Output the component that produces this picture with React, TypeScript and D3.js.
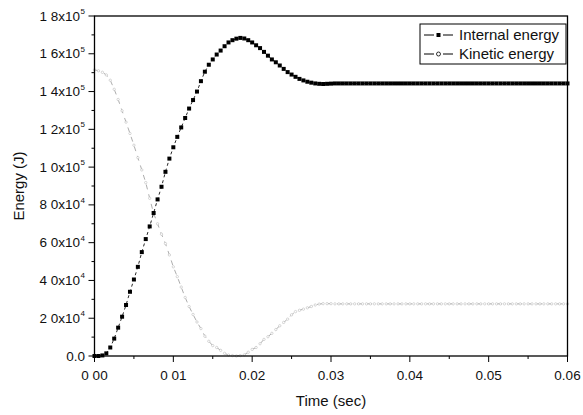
import React from "react";
import * as d3 from "d3";

// time step 0.0005 s, 0 .. 0.06
const timeStepMs = 0.5;
const internalEnergy = [
  0, 0, 0.03, 0.14, 0.45, 0.92, 1.5, 2.08, 2.7, 3.4,
  4.05, 4.72, 5.5, 6.19, 6.86, 7.57, 8.29, 8.96, 9.75, 10.45,
  11.05, 11.6, 12.1, 12.6, 13.1, 13.55, 14.0, 14.55, 15.05, 15.42,
  15.7, 15.96, 16.17, 16.4, 16.6, 16.72, 16.8, 16.84, 16.81, 16.72,
  16.6, 16.45, 16.3, 16.1, 15.9, 15.7, 15.55, 15.38, 15.2, 15.03,
  14.9, 14.78, 14.67, 14.59, 14.52, 14.47, 14.43, 14.41, 14.4, 14.41,
  14.42, 14.43, 14.43, 14.43, 14.43, 14.43, 14.43, 14.43, 14.43, 14.43,
  14.43, 14.43, 14.43, 14.43, 14.43, 14.43, 14.43, 14.43, 14.43, 14.43,
  14.43, 14.43, 14.43, 14.43, 14.43, 14.43, 14.43, 14.43, 14.43, 14.43,
  14.43, 14.43, 14.43, 14.43, 14.43, 14.43, 14.43, 14.43, 14.43, 14.43,
  14.43, 14.43, 14.43, 14.43, 14.43, 14.43, 14.43, 14.43, 14.43, 14.43,
  14.43, 14.43, 14.43, 14.43, 14.43, 14.43, 14.43, 14.43, 14.43, 14.43,
  14.43,
];
const kineticEnergy = [
  15.15, 15.1, 15.02, 14.88, 14.6, 14.12, 13.58, 12.98, 12.38, 11.78,
  11.16, 10.5, 9.85, 9.18, 8.35, 7.55, 7.0, 6.45, 5.95, 5.35,
  4.72, 4.2, 3.65, 3.1, 2.62, 2.2, 1.8, 1.45, 1.05, 0.78,
  0.55, 0.45, 0.3, 0.14, 0.05, 0.02, 0.0, 0.02, 0.06, 0.2,
  0.35, 0.45, 0.65, 0.88, 1.02, 1.2, 1.4, 1.6, 1.78, 1.95,
  2.18, 2.35, 2.42, 2.48, 2.55, 2.62, 2.7, 2.75, 2.77, 2.77,
  2.77, 2.76, 2.76, 2.76, 2.76, 2.76, 2.76, 2.76, 2.76, 2.76,
  2.76, 2.76, 2.76, 2.76, 2.76, 2.76, 2.76, 2.76, 2.76, 2.76,
  2.76, 2.76, 2.76, 2.76, 2.76, 2.76, 2.76, 2.76, 2.76, 2.76,
  2.76, 2.76, 2.76, 2.76, 2.76, 2.76, 2.76, 2.76, 2.76, 2.76,
  2.76, 2.76, 2.76, 2.76, 2.76, 2.76, 2.76, 2.76, 2.76, 2.76,
  2.76, 2.76, 2.76, 2.76, 2.76, 2.76, 2.76, 2.76, 2.76, 2.76,
  2.76,
];
const xTicks = [0, 0.01, 0.02, 0.03, 0.04, 0.05, 0.06];
const xTickLabels = ["0 00", "0 01", "0.02", "0.03", "0.04", "0.05", "0.06"];
const yTicks = [0, 2e4, 4e4, 6e4, 8e4, 1e5, 1.2e5, 1.4e5, 1.6e5, 1.8e5];
const yTickMantissa = ["0.0", "2 0x10", "4 0x10", "6 0x10", "8 0x10", "1 0x10", "1 2x10", "1 4x10", "1 6x10", "1 8x10"];
const yTickExp = ["", "4", "4", "4", "4", "5", "5", "5", "5", "5"];
const legendLabels = ["Internal energy", "Kinetic energy"];

const W = 583, H = 415;
const left = 94.5, right = 567.5, top = 16, bottom = 356;
const font = "'Liberation Sans', Arial, sans-serif";

export default function App() {
  const x = d3.scaleLinear().domain([0, 0.06]).range([left, right]);
  const y = d3.scaleLinear().domain([0, 1.8e5]).range([bottom, top]);
  const internal = internalEnergy.map((v, i) => ({ t: (i * timeStepMs) / 1000, e: v * 1e4 }));
  const kinetic = kineticEnergy.map((v, i) => ({ t: (i * timeStepMs) / 1000, e: v * 1e4 }));
  const line = d3.line<{ t: number; e: number }>().x((d) => x(d.t)).y((d) => y(d.e));
  const xMinor = d3.range(0, 0.0601, 0.005);
  const yMinor = d3.range(0, 1.8001e5, 1e4);

  return (
    <svg width={W} height={H} style={{ position: "absolute", left: 0, top: 0, background: "#fff" }} fontFamily={font}>
      <rect x={0} y={0} width={W} height={H} fill="#fff" />
      {/* curves */}
      <path d={line(kinetic) || ""} fill="none" stroke="#8a8a8a" strokeWidth={0.7} strokeDasharray="5,5" />
      {kinetic.map((d, i) => (
        <circle key={"k" + i} cx={x(d.t)} cy={y(d.e)} r={1.2} fill="#fff" stroke="#b0b0b0" strokeWidth={0.5} />
      ))}
      <path d={line(internal) || ""} fill="none" stroke="#111" strokeWidth={0.9} strokeDasharray="3,3" />
      {internal.map((d, i) => (
        <rect key={"i" + i} x={x(d.t) - 2} y={y(d.e) - 2} width={4} height={4} fill="#000" />
      ))}
      {/* frame */}
      <rect x={left} y={top} width={right - left} height={bottom - top} fill="none" stroke="#000" strokeWidth={1.3} />
      {/* x ticks */}
      {xMinor.map((t, i) => (
        <line key={"xm" + i} x1={x(t)} x2={x(t)} y1={bottom} y2={bottom + (i % 2 === 0 ? 6 : 3)} stroke="#000" strokeWidth={1} />
      ))}
      {xTicks.map((t, i) => (
        <text key={"xt" + i} x={x(t)} y={380} textAnchor="middle" fontSize={13.5} fill="#111">{xTickLabels[i]}</text>
      ))}
      {/* y ticks */}
      {yMinor.map((v, i) => (
        <line key={"ym" + i} x1={left - (i % 2 === 0 ? 6 : 3)} x2={left} y1={y(v)} y2={y(v)} stroke="#000" strokeWidth={1} />
      ))}
      {yTicks.map((v, i) => (
        <text key={"yt" + i} x={yTickExp[i] ? 80 : 85} y={y(v) + 4.5} textAnchor="end" fontSize={13.5} fill="#111">
          {yTickMantissa[i]}
        </text>
      ))}
      {yTicks.map((v, i) =>
        yTickExp[i] ? (
          <text key={"ye" + i} x={80.5} y={y(v) - 2} fontSize={8} fill="#111">{yTickExp[i]}</text>
        ) : null
      )}
      {/* axis titles */}
      <text x={(left + right) / 2} y={406} textAnchor="middle" fontSize={15} fill="#111">Time (sec)</text>
      <text transform={`translate(24,${(top + bottom) / 2}) rotate(-90)`} textAnchor="middle" fontSize={15} fill="#111">Energy (J)</text>
      {/* legend */}
      <rect x={420} y={24} width={146} height={40} fill="#fff" stroke="#000" strokeWidth={1} />
      <line x1={424} x2={434} y1={35} y2={35} stroke="#000" strokeWidth={1} />
      <line x1={443} x2={453} y1={35} y2={35} stroke="#000" strokeWidth={1} />
      <rect x={436.5} y={33} width={4} height={4} fill="#000" />
      <text x={459} y={40} fontSize={15} fill="#111">{legendLabels[0]}</text>
      <line x1={424} x2={434} y1={54} y2={54} stroke="#000" strokeWidth={1} />
      <line x1={443} x2={453} y1={54} y2={54} stroke="#000" strokeWidth={1} />
      <circle cx={438.5} cy={54} r={2} fill="#fff" stroke="#000" strokeWidth={0.8} />
      <text x={459} y={59} fontSize={15} fill="#111">{legendLabels[1]}</text>
    </svg>
  );
}
